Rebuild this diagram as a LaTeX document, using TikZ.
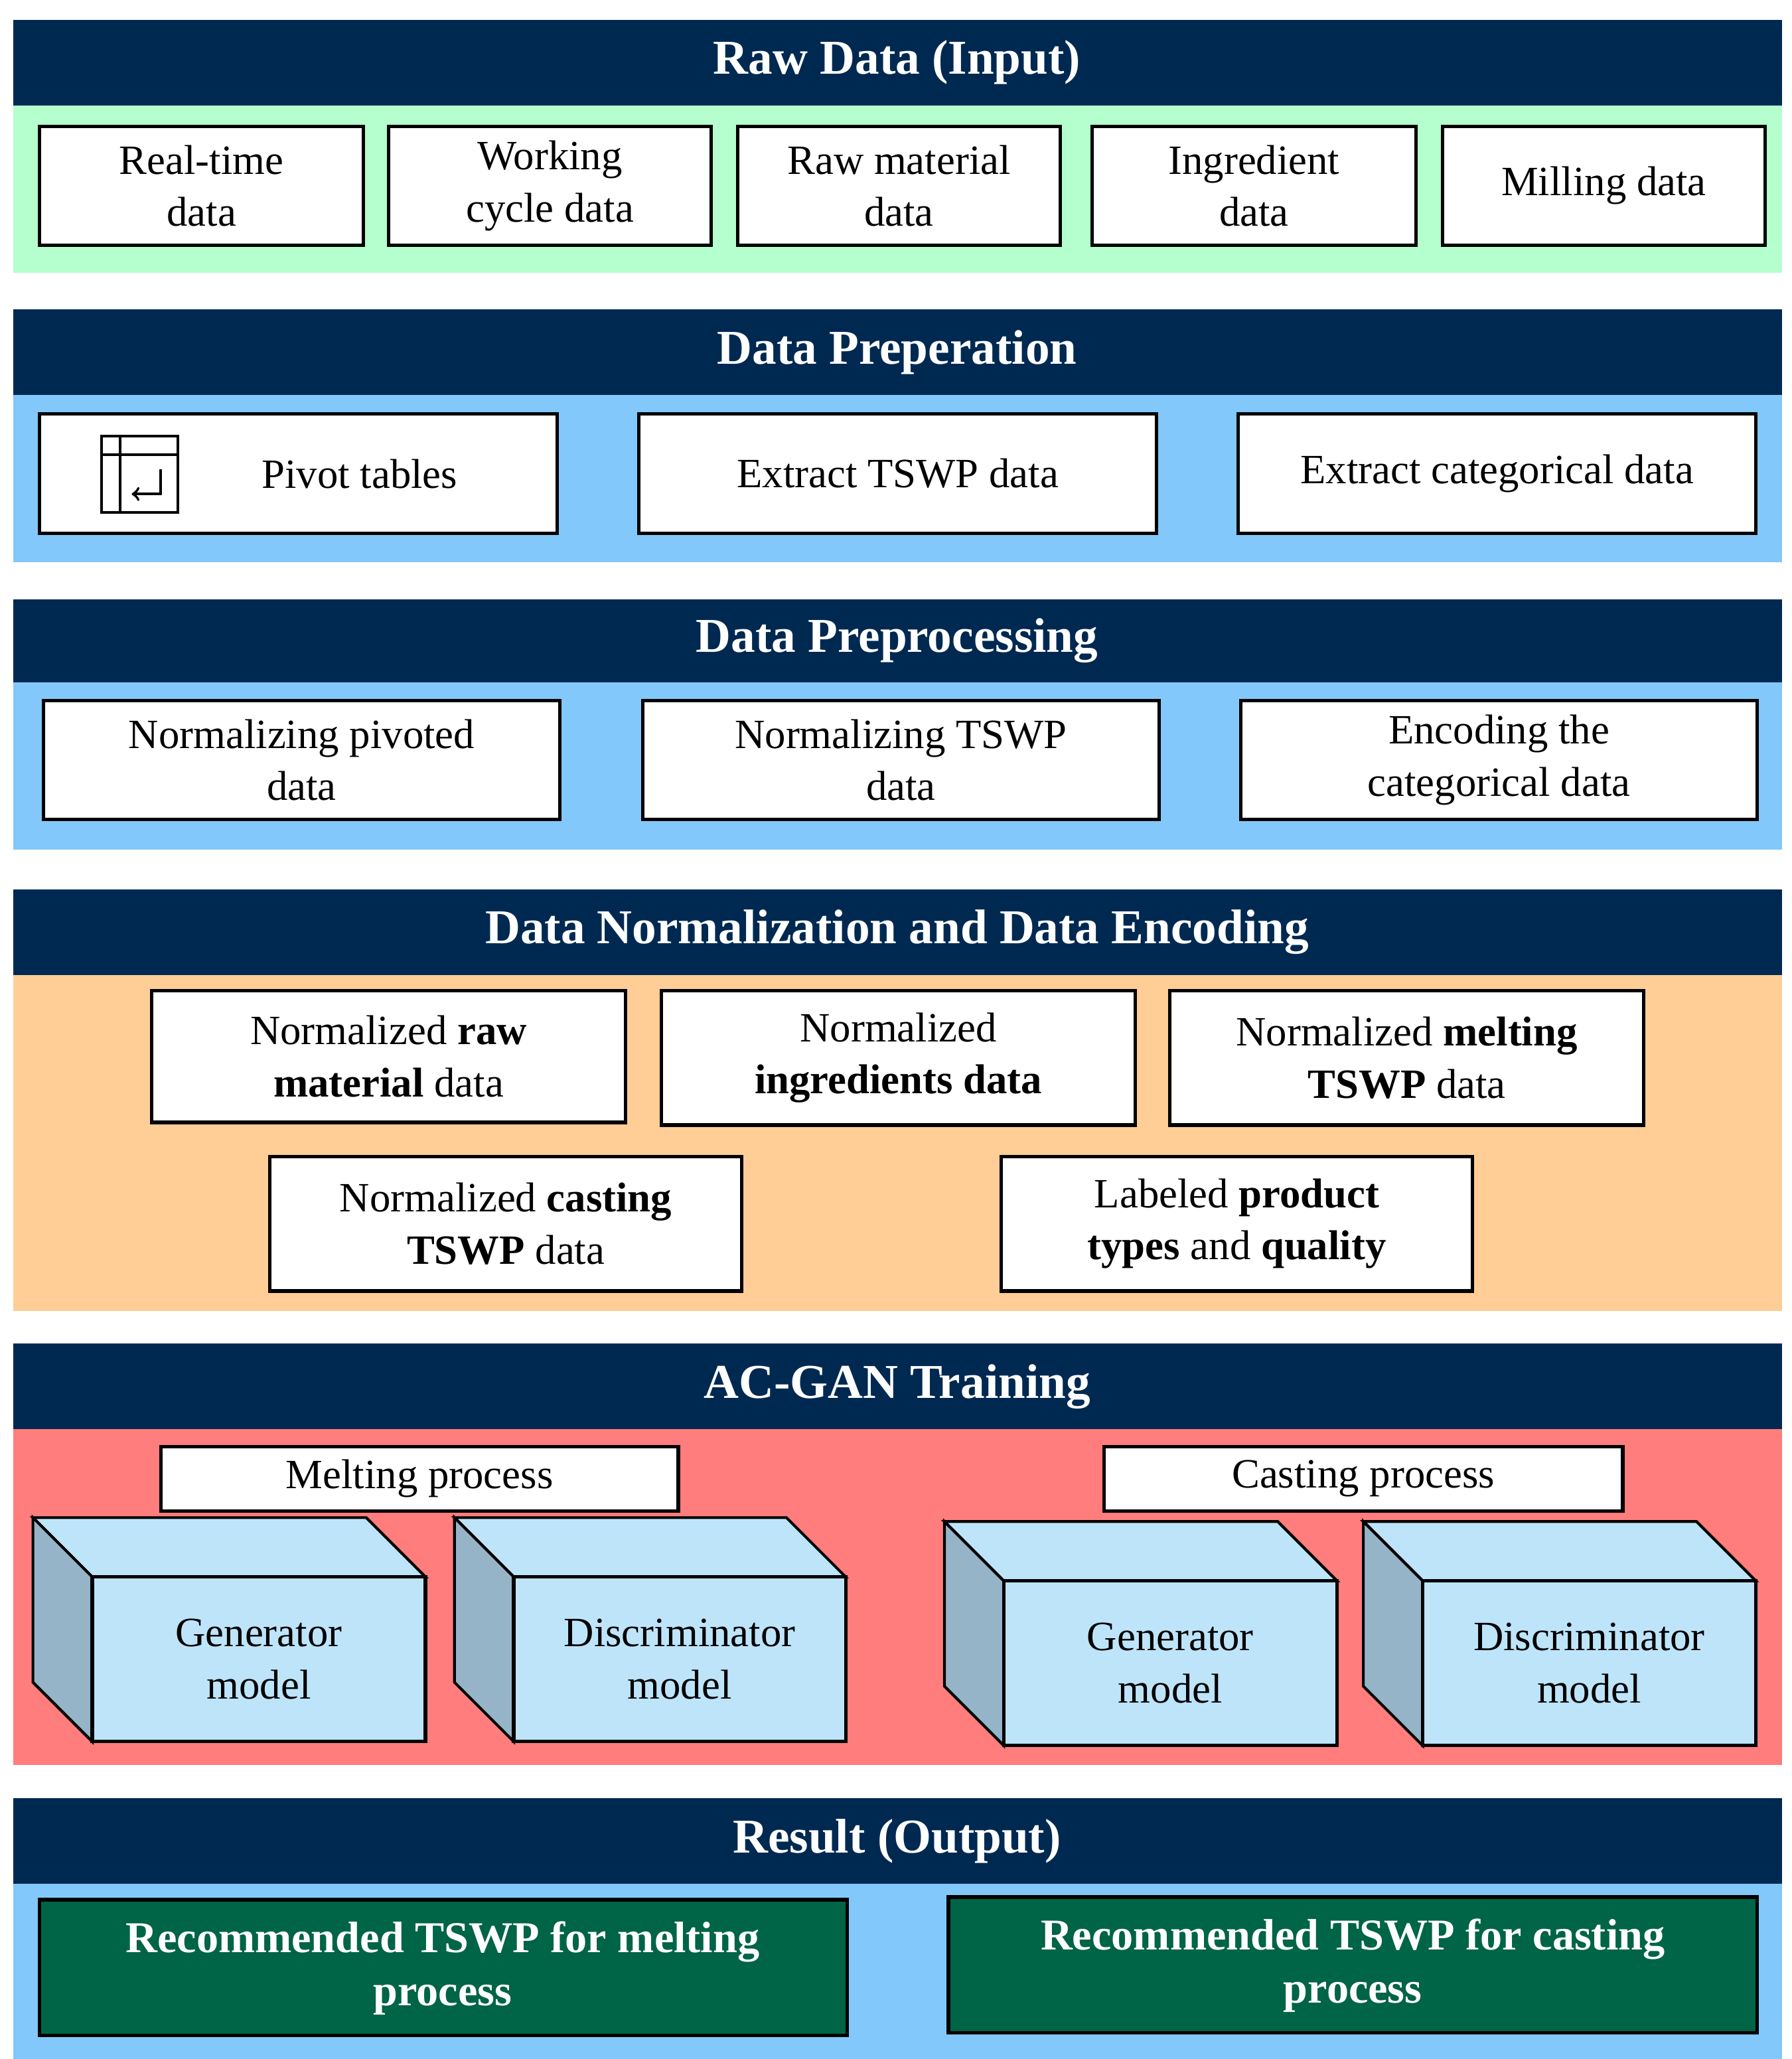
\documentclass[tikz,border=0pt]{standalone}
\usepackage{fontspec}
\setmainfont{Liberation Serif}
\begin{document}
\definecolor{navy}{RGB}{0,41,82}
\definecolor{bgreen}{RGB}{180,255,205}
\definecolor{bblue}{RGB}{130,200,250}
\definecolor{borange}{RGB}{255,205,150}
\definecolor{bred}{RGB}{255,125,125}
\definecolor{dgreen}{RGB}{0,100,70}
\definecolor{cubefront}{RGB}{190,228,250}
\definecolor{cubeside}{RGB}{150,180,200}
\begin{tikzpicture}[x=0.02cm,y=-0.02cm,
  hdr/.style={fill=navy,draw=none},
  htext/.style={text=white,font=\fontsize{21}{25}\selectfont\bfseries},
  box/.style={draw=black,line width=1.5pt,fill=white},
  btext/.style={align=center,font=\fontsize{18}{22.5}\selectfont},
  gbox/.style={draw=black,line width=1.5pt,fill=dgreen},
  gtext/.style={align=center,text=white,font=\fontsize{19}{23}\selectfont\bfseries}]
\useasboundingbox (0,0) rectangle (1360,1563);
\fill[white] (0,0) rectangle (1360,1563);
\newcommand\hdrband[6]{%
  \fill[hdr] (10,#1) rectangle (1353,#2);
  \fill[#4] (10,#2) rectangle (1353,#3);
  \node[htext] (#6) at (681,{(#1+#2)/2}) {#5};}
\newcommand\bx[6]{%
  \draw[box] (#1,#2) rectangle (#3,#4);
  \node[btext] (#5) at ({(#1+#3)/2},{(#2+#4)/2}) {#6};}
\newcommand\cube[6]{%
  \draw[line width=1.2pt,fill=cubefront] (#1,#2) -- (#3,#2) -- (#3-45,#2-45) -- (#1-45,#2-45) -- cycle;
  \draw[line width=1.2pt,fill=cubeside] (#1,#2) -- (#1,#4) -- (#1-45,#4-45) -- (#1-45,#2-45) -- cycle;
  \draw[line width=1.5pt,fill=cubefront] (#1,#2) rectangle (#3,#4);
  \node[btext] (#5) at ({(#1+#3)/2},{(#2+#4)/2}) {#6};}
% section 1
\hdrband{15}{80}{207}{bgreen}{Raw Data (Input)}{h1}
\bx{30}{96}{276}{186}{r1}{Real-time\\data}
\bx{295}{96}{540}{186}{r2}{Working\\cycle data}
\bx{560}{96}{805}{186}{r3}{Raw material\\data}
\bx{829}{96}{1075}{186}{r4}{Ingredient\\data}
\bx{1095}{96}{1340}{186}{r5}{Milling data}
% section 2
\hdrband{235}{300}{427}{bblue}{Data Preperation}{h2}
\draw[box] (30,314) rectangle (423,405);
\node[btext] (p1) at (273,360) {Pivot tables};
\draw[line width=1.2pt] (77,331) rectangle (135,389);
\draw[line width=1.2pt] (77,345) -- (135,345) (91,331) -- (91,389);
\draw[line width=1.2pt,->] (122,356) -- (122,375) -- (100,375);
\bx{485}{314}{878}{405}{p2}{Extract TSWP data}
\bx{940}{314}{1333}{405}{p3}{Extract categorical data}
% section 3
\hdrband{455}{518}{645}{bblue}{Data Preprocessing}{h3}
\bx{33}{532}{425}{622}{q1}{Normalizing pivoted\\data}
\bx{488}{532}{880}{622}{q2}{Normalizing TSWP\\data}
\bx{942}{532}{1334}{622}{q3}{Encoding the\\categorical data}
% section 4
\hdrband{675}{740}{995}{borange}{Data Normalization and Data Encoding}{h4}
\bx{115}{752}{475}{852}{n1}{Normalized \textbf{raw}\\\textbf{material} data}
\bx{502}{752}{862}{854}{n2}{Normalized\\\textbf{ingredients data}}
\bx{888}{752}{1248}{854}{n3}{Normalized \textbf{melting}\\\textbf{TSWP} data}
\bx{205}{878}{563}{980}{n4}{Normalized \textbf{casting}\\\textbf{TSWP} data}
\bx{760}{878}{1118}{980}{n5}{Labeled \textbf{product}\\\textbf{types} and \textbf{quality}}
% section 5
\hdrband{1020}{1085}{1340}{bred}{AC-GAN Training}{h5}
\bx{122}{1098}{515}{1147}{m1}{Melting process}
\bx{838}{1098}{1232}{1147}{m2}{Casting process}
\cube{70}{1197}{323}{1322}{g1}{Generator\\model}
\cube{390}{1197}{642}{1322}{d1}{Discriminator\\model}
\cube{762}{1200}{1015}{1325}{g2}{Generator\\model}
\cube{1080}{1200}{1333}{1325}{d2}{Discriminator\\model}
% section 6
\hdrband{1365}{1430}{1563}{bblue}{Result (Output)}{h6}
\draw[gbox] (30,1442) rectangle (643,1545);
\node[gtext] (o1) at (336,1494) {Recommended TSWP for melting\\process};
\draw[gbox] (720,1440) rectangle (1334,1543);
\node[gtext] (o2) at (1027,1492) {Recommended TSWP for casting\\process};
\end{tikzpicture}
\end{document}
